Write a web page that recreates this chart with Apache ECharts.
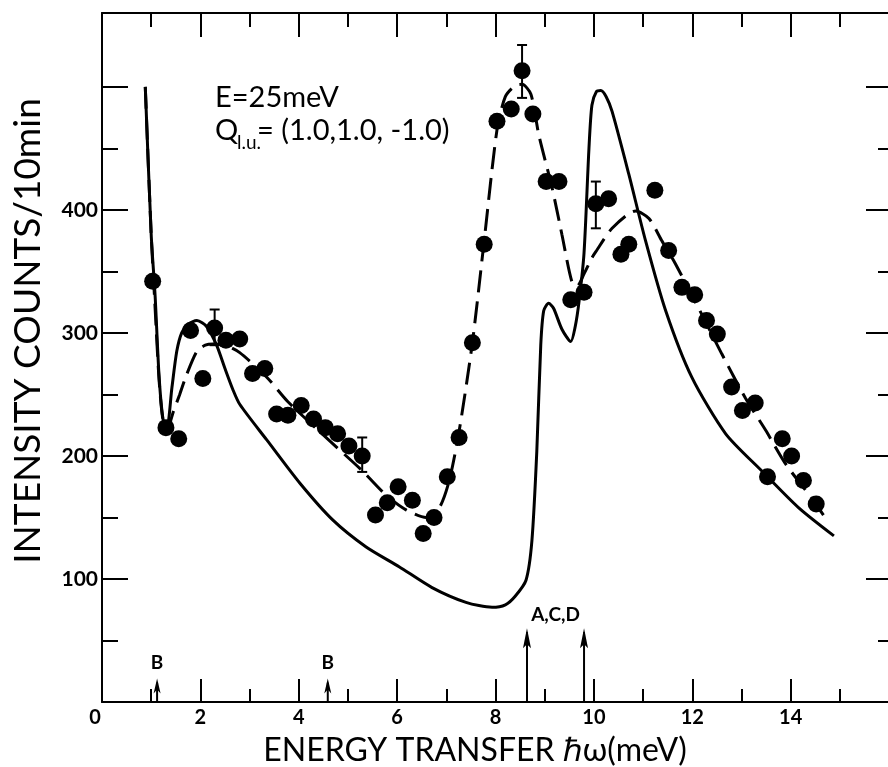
<!DOCTYPE html>
<html>
<head>
<meta charset="utf-8">
<script src="https://cdn.jsdelivr.net/npm/echarts@6.0.0/dist/echarts.min.js"></script>
<style>
  body { margin: 0; background: #fff; }
  #main { width: 888px; height: 767px; }
</style>
</head>
<body>
<div id="main"></div>
<script>
// measured points (energy transfer, counts / 10 min)
var pointX = [1.03, 1.30, 1.56, 1.80, 2.05, 2.29, 2.52, 2.80, 3.06, 3.31, 3.55, 3.78, 4.05, 4.30, 4.54, 4.79,
              5.02, 5.29, 5.56, 5.80, 6.02, 6.31, 6.53, 6.75, 7.02, 7.26, 7.53, 7.77, 8.03, 8.32, 8.54, 8.76,
              9.03, 9.29, 9.53, 9.80, 10.04, 10.30, 10.55, 10.71, 11.24, 11.52, 11.79, 12.05, 12.29, 12.51,
              12.80, 13.02, 13.28, 13.53, 13.83, 14.02, 14.26, 14.52];
var pointY = [342, 223, 214, 302, 263, 304, 294, 295, 267, 271, 234, 233, 241, 230, 223, 218,
              208, 200, 152, 162, 175, 164, 137, 150, 183, 215, 292, 372, 472, 482, 513, 478,
              423, 423, 327, 333, 405, 409, 364, 372, 416, 367, 337, 331, 310, 299,
              256, 237, 243, 183, 214, 200, 180, 161];

// error bars
var errX = [2.29, 5.29, 8.54, 10.04];
var errLow = [290, 187, 491, 385];
var errHigh = [319, 215, 534, 423];

// solid curve
var solidX = [0.88, 1.00, 1.08, 1.16, 1.24, 1.32, 1.42, 1.52, 1.62, 1.75, 1.93, 2.13, 2.33, 2.50, 2.66, 2.80, 3.35,
              4.02, 4.69, 5.37, 6.04, 6.71, 7.40, 7.93, 8.20, 8.40, 8.62, 8.74, 8.84, 8.92, 8.98, 9.08,
              9.18, 9.35, 9.53, 9.62, 9.70, 9.80, 9.90, 9.96, 10.05, 10.14, 10.25, 10.37, 10.71, 11.05,
              11.46, 11.99, 12.68, 13.41, 14.16, 14.88];
var solidY = [500, 380, 330, 265, 230, 223, 255, 285, 300, 307, 310, 305, 290, 271, 254, 242, 213,
              178, 148, 126, 110, 93, 81, 77, 79, 86, 99, 131, 204, 290, 318, 324,
              320, 303, 293, 305, 326, 365, 450, 485, 496, 497, 492, 480, 429, 375,
              318, 264, 218, 188, 158, 135];

// dashed curve
var dashX = [0.88, 1.00, 1.08, 1.16, 1.24, 1.33, 1.45, 1.58, 1.72, 1.93, 2.10, 2.26, 2.50, 2.80, 3.35, 3.78,
             4.69, 5.29, 5.78, 6.19, 6.59, 6.86, 7.06, 7.26, 7.53, 7.77, 8.03, 8.20, 8.40, 8.54, 8.72,
             8.88, 9.15, 9.35, 9.55, 9.66, 9.80, 9.96, 10.04, 10.37, 10.85, 11.12, 11.38, 11.66, 12.13,
             12.60, 13.08, 13.49, 13.89, 14.42, 14.70];
var dashY = [500, 380, 320, 262, 229, 222, 236, 250, 266, 285, 290, 291, 290, 284, 264, 244,
             210, 188, 168, 156, 150, 158, 180, 220, 292, 375, 465, 492, 501, 502, 494,
             461, 418, 380, 342, 338, 348, 361, 366, 385, 399, 393, 375, 356, 320,
             283, 247, 221, 194, 166, 150];

// arrows on the energy axis: position, tip height
var arrowX = [1.12, 4.59, 8.64, 9.80];
var arrowTop = [19, 19, 60, 60];
// arrow labels: position, height, text
var noteX = [1.12, 4.59, 9.22];
var noteY = [32, 32, 71];
var noteText = ['B', 'B', 'A,C,D'];

// ticks and labels
var xTicksMajor = [0, 2, 4, 6, 8, 10, 12, 14, 16];
var xTicksMinor = [1, 3, 5, 7, 9, 11, 13, 15];
var xLabels = [0, 2, 4, 6, 8, 10, 12, 14];
var yTicksMajor = [0, 100, 200, 300, 400, 500];
var yTicksMinor = [50, 150, 250, 350, 450];
var yLabels = [100, 200, 300, 400];

function zip(xs, ys) {
    var out = [];
    for (var i = 0; i < xs.length; i++) out.push([xs[i], ys[i]]);
    return out;
}

var myChart = echarts.init(document.getElementById('main'));
var FONT = 'Lato';
var lineBlack = { color: '#000', width: 2 };

function xAx(pos, ticks, len, showLine, labels) {
    return {
        type: 'value', position: pos, min: 0, max: 16,
        axisLine: { show: showLine, onZero: false, lineStyle: lineBlack },
        axisTick: { show: true, inside: true, length: len, customValues: ticks, lineStyle: lineBlack },
        axisLabel: labels ? {
            show: true, customValues: labels, margin: 6,
            color: '#000', fontFamily: FONT, fontWeight: 'bold', fontSize: 20,
            formatter: function (v) { return v === 0 ? '{z|0}' : String(v); },
            rich: { z: { fontFamily: FONT, fontWeight: 'bold', fontSize: 20, color: '#000', padding: [0, 14, 0, 0] } }
        } : { show: false },
        splitLine: { show: false }
    };
}
function yAx(pos, ticks, len, showLine, labels) {
    return {
        type: 'value', position: pos, min: 0, max: 560,
        axisLine: { show: showLine, onZero: false, lineStyle: lineBlack },
        axisTick: { show: true, inside: true, length: len, customValues: ticks, lineStyle: lineBlack },
        axisLabel: labels ? {
            show: true, customValues: labels, margin: 4,
            color: '#000', fontFamily: FONT, fontWeight: 'bold', fontSize: 21
        } : { show: false },
        splitLine: { show: false }
    };
}

var option = {
    animation: false,
    backgroundColor: '#fff',
    grid: { left: 102, top: 13, width: 787, height: 689, containLabel: false, outerBoundsMode: 'none' },
    xAxis: [
        xAx('bottom', xTicksMajor, 23, true, xLabels),
        xAx('bottom', xTicksMinor, 13, false, null),
        xAx('top', xTicksMajor, 24, true, null),
        xAx('top', xTicksMinor, 14, false, null)
    ],
    yAxis: [
        yAx('left', yTicksMajor, 26, true, yLabels),
        yAx('left', yTicksMinor, 16, false, null),
        yAx('right', yTicksMajor, 23, true, null),
        yAx('right', yTicksMinor, 11, false, null)
    ],
    graphic: [
        { type: 'text', x: 475, y: 751,
          style: { text: 'ENERGY TRANSFER \u210F\u03C9(meV)', font: 'normal 32px Lato', fill: '#000', align: 'center', verticalAlign: 'middle' } },
        { type: 'text', x: 28, y: 331, rotation: Math.PI / 2,
          style: { text: 'INTENSITY COUNTS/10min', font: 'normal 37px Lato', fill: '#000', align: 'center', verticalAlign: 'middle' } },
        { type: 'text', x: 215, y: 98, style: { text: 'E=25meV', font: 'normal 29px Lato', fill: '#000', verticalAlign: 'middle' } },
        { type: 'text', x: 215, y: 131, style: { text: 'Q', font: 'normal 29px Lato', fill: '#000', verticalAlign: 'middle' } },
        { type: 'text', x: 237, y: 143, style: { text: 'l.u.', font: 'normal 19px Lato', fill: '#000', verticalAlign: 'middle' } },
        { type: 'text', x: 257, y: 131, style: { text: '= (1.0,1.0, -1.0)', font: 'normal 29px Lato', fill: '#000', verticalAlign: 'middle' } }
    ],
    series: [
        {
            type: 'line', data: zip(solidX, solidY), smooth: 0.25, showSymbol: false,
            lineStyle: { color: '#000', width: 3 }, z: 2
        },
        {
            type: 'line', data: zip(dashX, dashY), smooth: 0.25, showSymbol: false,
            lineStyle: { color: '#000', width: 3, type: [22, 9] }, z: 2
        },
        {
            type: 'scatter', data: zip(pointX, pointY), symbol: 'circle', symbolSize: 17,
            itemStyle: { color: '#000', opacity: 1 }, z: 3
        },
        {
            type: 'custom', data: zip(errX, errLow).map(function (d, i) { return [d[0], d[1], errHigh[i]]; }),
            z: 4,
            renderItem: function (params, api) {
                var lo = api.coord([api.value(0), api.value(1)]);
                var hi = api.coord([api.value(0), api.value(2)]);
                var hw = 5, st = { stroke: '#000', lineWidth: 2 };
                return {
                    type: 'group', children: [
                        { type: 'line', shape: { x1: lo[0], y1: lo[1], x2: hi[0], y2: hi[1] }, style: st },
                        { type: 'line', shape: { x1: lo[0] - hw, y1: lo[1], x2: lo[0] + hw, y2: lo[1] }, style: st },
                        { type: 'line', shape: { x1: hi[0] - hw, y1: hi[1], x2: hi[0] + hw, y2: hi[1] }, style: st }
                    ]
                };
            }
        },
        {
            // arrows from the energy axis
            type: 'custom', data: zip(arrowX, arrowTop), z: 4,
            renderItem: function (params, api) {
                var base = api.coord([api.value(0), 0]);
                var tip = api.coord([api.value(0), api.value(1)]);
                var big = api.value(1) > 30;
                var hl = big ? 20 : 15, hw = big ? 4 : 3.5;
                var x = tip[0], y = tip[1];
                return {
                    type: 'group', children: [
                        { type: 'line', shape: { x1: base[0], y1: base[1], x2: x, y2: y + 4 },
                          style: { stroke: '#000', lineWidth: 2 } },
                        { type: 'polygon', shape: { points: [[x, y], [x + hw, y + hl], [x, y + hl - 4], [x - hw, y + hl]] },
                          style: { fill: '#000' } }
                    ]
                };
            }
        },
        {
            // arrow labels
            type: 'custom', data: noteX.map(function (x, i) { return [x, noteY[i], i]; }), z: 5,
            renderItem: function (params, api) {
                var p = api.coord([api.value(0), api.value(1)]);
                return {
                    type: 'text', x: p[0], y: p[1],
                    style: { text: noteText[api.value(2)], fill: '#000', font: 'bold 19px Lato',
                             align: 'center', verticalAlign: 'middle' }
                };
            }
        }
    ]
};
myChart.setOption(option);
</script>
</body>
</html>
